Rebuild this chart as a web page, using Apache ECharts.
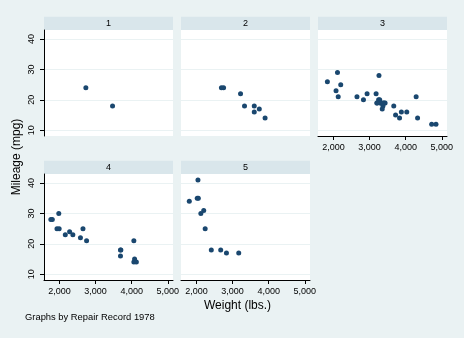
<!DOCTYPE html>
<html>
<head>
<meta charset="utf-8">
<script src="https://cdn.jsdelivr.net/npm/echarts@6/dist/echarts.min.js"></script>
<style>
  html, body { margin: 0; padding: 0; background: #EAF2F3; }
  #chart { width: 464px; height: 338px; }
</style>
</head>
<body>
<div id="chart"></div>
<script>
// 1978 automobile data: mileage against weight, split by repair record
const panelLabels = ['1', '2', '3', '4', '5'];

const weightRep1 = [2730, 3470];
const mpgRep1 = [24, 18];

const weightRep2 = [3900, 3220, 2750, 3600, 3600, 3740, 3330, 2690];
const mpgRep2 = [14, 22, 24, 18, 16, 17, 18, 24];

const weightRep3 = [2930, 3350, 3250, 3670, 3280, 3880, 3400, 4330, 4290, 2110,
                    3180, 3430, 2130, 2650, 4840, 4720, 3830, 3720, 3370, 2830,
                    3310, 3300, 3370, 4030, 3260, 2200, 3210, 3200, 2070, 1830];
const mpgRep3 = [22, 17, 20, 18, 20, 16, 19, 14, 21, 29,
                 22, 19, 21, 21, 12, 12, 14, 15, 18, 20,
                 19, 19, 19, 16, 28, 25, 19, 19, 23, 26];

const weightRep4 = [4080, 3690, 1800, 2580, 4060, 4130, 4060, 3690, 3700, 2650,
                    2370, 2280, 2750, 1760, 1980, 2160, 1930, 1990];
const mpgRep4 = [15, 16, 28, 22, 14, 14, 21, 18, 18, 25,
                 23, 24, 21, 28, 30, 23, 25, 25];

const weightRep5 = [2120, 1800, 2830, 2020, 2240, 2050, 2410, 2200, 2670, 2040, 3170];
const mpgRep5 = [30, 34, 17, 35, 25, 35, 18, 31, 18, 41, 17];

const xTicks = [2000, 3000, 4000, 5000];
const yTicks = [10, 20, 30, 40];

const xTitle = 'Weight (lbs.)';
const yTitle = 'Mileage (mpg)';
const note = 'Graphs by Repair Record 1978';

const groups = [
  [weightRep1, mpgRep1], [weightRep2, mpgRep2], [weightRep3, mpgRep3],
  [weightRep4, mpgRep4], [weightRep5, mpgRep5]
];

// panel layout: [left, top], which axes carry labels
const W = 129, H = 106, STRIP = 13.3;
const panels = [
  { left: 44,  top: 30,  xAxis: false, yAxis: true  },
  { left: 181, top: 30,  xAxis: false, yAxis: false },
  { left: 318, top: 30,  xAxis: true,  yAxis: false },
  { left: 44,  top: 174, xAxis: true,  yAxis: true  },
  { left: 181, top: 174, xAxis: true,  yAxis: false }
];

const FONT = '"Liberation Sans", Arial, sans-serif';
const NAVY = '#1A476F';
const GRIDLINE = '#EAF2F3';
const STRIP_BG = '#D9E6EB';

const fmt = v => v.toLocaleString('en-US');

const grid = [], xAxis = [], yAxis = [], series = [], graphic = [];

panels.forEach((p, i) => {
  grid.push({
    left: p.left, top: p.top, width: W, height: H,
    show: true, backgroundColor: '#FFFFFF', borderWidth: 0
  });

  xAxis.push({
    gridIndex: i, type: 'value', min: 1570, max: 5145,
    axisLine: { show: p.xAxis, onZero: false, lineStyle: { color: '#000', width: 1 } },
    axisTick: { show: p.xAxis, length: 4, customValues: xTicks, lineStyle: { color: '#000' } },
    axisLabel: {
      show: p.xAxis, customValues: xTicks, formatter: fmt, margin: 7,
      fontFamily: FONT, fontSize: 9, color: '#000'
    },
    splitLine: { show: false }
  });

  yAxis.push({
    gridIndex: i, type: 'value', min: 8.1, max: 43,
    axisLine: { show: p.yAxis, onZero: false, lineStyle: { color: '#000', width: 1 } },
    axisTick: { show: p.yAxis, length: 4, customValues: yTicks, lineStyle: { color: '#000' } },
    axisLabel: {
      show: p.yAxis, customValues: yTicks, rotate: 90, margin: 8,
      fontFamily: FONT, fontSize: 9, color: '#000'
    },
    splitLine: { show: true, lineStyle: { color: GRIDLINE, width: 1 } }
  });

  const [wt, mpg] = groups[i];
  series.push({
    type: 'scatter', xAxisIndex: i, yAxisIndex: i,
    data: wt.map((w, k) => [w, mpg[k]]),
    symbol: 'circle', symbolSize: 5,
    itemStyle: { color: NAVY, opacity: 1 },
    silent: true
  });

  // facet strip
  graphic.push({
    type: 'rect', left: p.left, top: p.top - STRIP,
    shape: { width: W, height: STRIP },
    style: { fill: STRIP_BG }, silent: true
  });
  graphic.push({
    type: 'text', x: p.left + W / 2, y: p.top - STRIP / 2,
    style: {
      text: panelLabels[i], font: '9px ' + FONT, fill: '#000',
      textAlign: 'center', textVerticalAlign: 'middle'
    }, silent: true
  });
});

graphic.push({
  type: 'text', x: 237.5, y: 305.5,
  style: { text: xTitle, font: '12px ' + FONT, fill: '#000',
           textAlign: 'center', textVerticalAlign: 'middle' }, silent: true
});
graphic.push({
  type: 'text', x: 16.7, y: 157, rotation: Math.PI / 2,
  style: { text: yTitle, font: '12px ' + FONT, fill: '#000',
           textAlign: 'center', textVerticalAlign: 'middle' }, silent: true
});
graphic.push({
  type: 'text', x: 25, y: 317.7,
  style: { text: note, font: '9.4px ' + FONT, fill: '#000',
           textAlign: 'left', textVerticalAlign: 'middle' }, silent: true
});

const chart = echarts.init(document.getElementById('chart'), null, { renderer: 'canvas' });
chart.setOption({
  animation: false,
  backgroundColor: '#EAF2F3',
  grid, xAxis, yAxis, series, graphic
});
</script>
</body>
</html>
